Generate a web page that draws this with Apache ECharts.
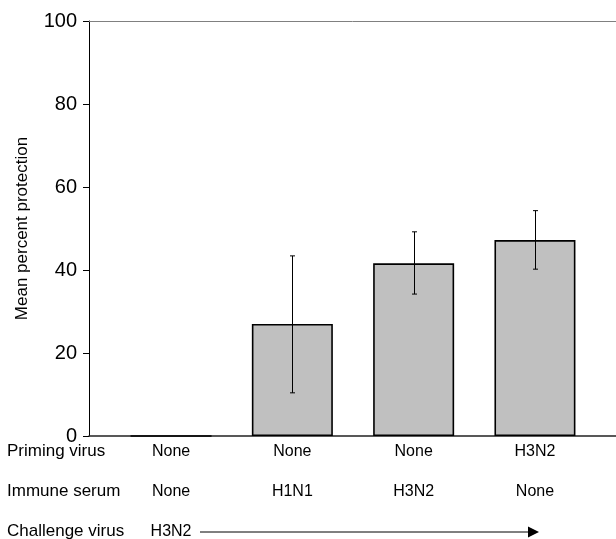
<!DOCTYPE html>
<html>
<head>
<meta charset="utf-8">
<script src="https://cdn.jsdelivr.net/npm/echarts@6/dist/echarts.min.js"></script>
<style>
html,body{margin:0;padding:0;background:#fff;}
#chart{width:616px;height:539px;}
</style>
</head>
<body>
<div id="chart"></div>
<script>
// ---- data ----
const primingVirus = ['None', 'None', 'None', 'H3N2'];
const immuneSerum = ['None', 'H1N1', 'H3N2', 'None'];
const challengeVirus = ['H3N2', '', '', ''];
const rowLabels = ['Priming virus', 'Immune serum', 'Challenge virus'];
const protection = [0, 27.0, 41.6, 47.2];
const errLow = [null, 10.4, 34.2, 40.2];
const errHigh = [null, 43.4, 49.2, 54.3];
const yMin = 0, yMax = 100, yStep = 20;
const yAxisName = 'Mean percent protection';

const FONT = 'Liberation Sans, Arial, sans-serif';
const categories = primingVirus.map((p, i) => p + '\n' + immuneSerum[i] + '\n' + challengeVirus[i]);
const errData = [];
for (let i = 0; i < categories.length; i++) {
  if (errLow[i] != null) errData.push([i, errLow[i], errHigh[i]]);
}

const chart = echarts.init(document.getElementById('chart'), null, {renderer: 'canvas'});
const option = {
  animation: false,
  backgroundColor: '#fff',
  textStyle: {fontFamily: FONT},
  grid: [
    {left: 89, right: 0, top: 21, bottom: 103, containLabel: false, outerBoundsMode: 'none'},
    {left: 110.4, right: 20.4, top: 21, bottom: 103, containLabel: false, outerBoundsMode: 'none'}
  ],
  xAxis: [
    {gridIndex: 0, type: 'value', min: 0, max: 1, position: 'bottom',
     axisLine: {show: true, lineStyle: {color: '#222', width: 1.5}},
     axisTick: {show: false}, axisLabel: {show: false}, splitLine: {show: false}},
    {gridIndex: 0, type: 'value', min: 0, max: 1, position: 'top',
     axisLine: {show: true, lineStyle: {color: '#808080', width: 1}},
     axisTick: {show: false}, axisLabel: {show: false}, splitLine: {show: false}},
    {gridIndex: 1, type: 'category', data: categories,
     axisLine: {show: false}, axisTick: {show: false}, splitLine: {show: false},
     axisLabel: {show: true, interval: 0, margin: -4, color: '#000', fontSize: 16,
                 lineHeight: 40, fontFamily: FONT}}
  ],
  yAxis: [
    {gridIndex: 0, type: 'value', min: yMin, max: yMax, interval: yStep,
     name: yAxisName, nameLocation: 'middle', nameGap: 58,
     nameTextStyle: {color: '#000', fontSize: 17, fontFamily: FONT},
     axisLine: {show: true, lineStyle: {color: '#000', width: 1}},
     axisTick: {show: true, length: 6, lineStyle: {color: '#000', width: 1}},
     axisLabel: {color: '#000', fontSize: 20, margin: 12, fontFamily: FONT},
     splitLine: {show: false}},
    {gridIndex: 1, type: 'value', min: yMin, max: yMax, interval: yStep, show: false,
     splitLine: {show: false}}
  ],
  series: [
    {type: 'bar', xAxisIndex: 2, yAxisIndex: 1, data: protection, barWidth: 81,
     itemStyle: {color: '#c0c0c0', borderColor: '#000', borderWidth: 1.6}},
    {type: 'custom', xAxisIndex: 2, yAxisIndex: 1, data: errData,
     encode: {x: 0, y: [1, 2]}, z: 5,
     renderItem: function (params, api) {
       const i = api.value(0);
       const lo = api.coord([i, api.value(1)]);
       const hi = api.coord([i, api.value(2)]);
       const x = Math.round(lo[0]) + 0.5;
       const cap = 2.5;
       const style = {stroke: '#000', lineWidth: 1, fill: null};
       return {type: 'group', children: [
         {type: 'line', shape: {x1: x, y1: lo[1], x2: x, y2: hi[1]}, style: style},
         {type: 'line', shape: {x1: x - cap, y1: lo[1], x2: x + cap, y2: lo[1]}, style: style},
         {type: 'line', shape: {x1: x - cap, y1: hi[1], x2: x + cap, y2: hi[1]}, style: style}
       ]};
     }}
  ],
  graphic: [
    {type: 'text', left: 7, top: 443, style: {text: rowLabels[0], fill: '#000', font: '17px ' + FONT}},
    {type: 'text', left: 7, top: 483, style: {text: rowLabels[1], fill: '#000', font: '17px ' + FONT}},
    {type: 'text', left: 7, top: 523, style: {text: rowLabels[2], fill: '#000', font: '17px ' + FONT}},
    {type: 'line', shape: {x1: 200, y1: 532, x2: 530, y2: 532}, style: {stroke: '#000', lineWidth: 1}},
    {type: 'polygon', shape: {points: [[528, 526.5], [539, 532], [528, 537.5]]}, style: {fill: '#000'}}
  ]
};
chart.setOption(option);
</script>
</body>
</html>
